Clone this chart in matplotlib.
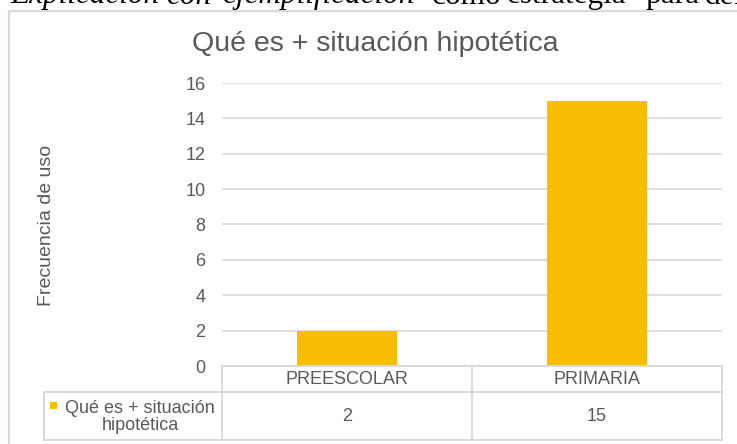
import matplotlib
matplotlib.use("Agg")
import matplotlib.pyplot as plt
from matplotlib.patches import Rectangle
from matplotlib.lines import Line2D

categories = ["PREESCOLAR", "PRIMARIA"]
values = [2, 15]
series_name = "Qué es + situación\nhipotética"
title = "Qué es + situación hipotética"
ylabel = "Frecuencia de uso"
yticks = [0, 2, 4, 6, 8, 10, 12, 14, 16]
# caption above the chart (justified text, partly clipped)
caption_words = ["Explicación", "con", "ejemplificación", "como", "estrategia", "para", "definir"]
caption_italic = [True, True, True, False, False, False, False]
caption_x = [10, 166, 222, 432, 507, 645, 705]

W, H = 737, 444
plt.rcParams['font.family'] = ['Liberation Sans', 'DejaVu Sans']
fig = plt.figure(figsize=(W / 100, H / 100), dpi=100)

def fx(px):
    return px / W

def fy(py):
    return 1 - py / H

TXT = "#595959"
GRID = "#D9D9D9"
BAR = "#F9BE04"

# Outer chart frame (extends past right/bottom edge)
fig.add_artist(Rectangle((fx(8.5), fy(460)), fx(760) - fx(8.5), fy(10.5) - fy(460),
                         transform=fig.transFigure, fill=False, edgecolor=GRID, lw=1.6))

# Caption words
for w, it, xx in zip(caption_words, caption_italic, caption_x):
    fig.text(fx(xx), fy(3.5), w, family=['Liberation Serif', 'DejaVu Serif'],
             style='italic' if it else 'normal', fontsize=22.5, color='black',
             va='baseline', ha='left')

# Axes
left, right, top, bottom = 222, 722, 83, 366
ax = fig.add_axes([fx(left), fy(bottom), fx(right) - fx(left), fy(top) - fy(bottom)])
x = list(range(len(categories)))
ax.bar(x, values, width=0.4, color=BAR, zorder=3)
ax.set_xlim(-0.5, len(categories) - 0.5)
ax.set_ylim(0, 16)
ax.set_yticks(yticks)
ax.set_yticklabels([str(v) for v in yticks], fontsize=13, color=TXT)
ax.tick_params(axis='y', length=0, pad=12)
ax.set_xticks([])
ax.grid(axis='y', color=GRID, lw=1.2, zorder=0)
for s in ax.spines.values():
    s.set_visible(False)

fig.text(fx(47), fy(225), ylabel, fontsize=14, color=TXT, rotation=90,
         ha='center', va='center')
fig.text(fx(375), fy(44), title, fontsize=20.5, color=TXT, ha='center', va='center')

# Data table
def hline(x0, x1, y):
    fig.add_artist(Line2D([fx(x0), fx(x1)], [fy(y), fy(y)], transform=fig.transFigure,
                          color=GRID, lw=1.4))

def vline(x, y0, y1):
    fig.add_artist(Line2D([fx(x), fx(x)], [fy(y0), fy(y1)], transform=fig.transFigure,
                          color=GRID, lw=1.4))

r0, r1, r2 = 366, 392, 440
legx = 44
hline(left, right, r0)
hline(legx, right, r1)
hline(legx, right, r2)
vline(left, r0, r2)
vline(right, r0, r2)
vline(legx, r1, r2)
colw = (right - left) / len(categories)
for i, (c, v) in enumerate(zip(categories, values)):
    cx = left + colw * (i + 0.5)
    if i > 0:
        vline(left + colw * i, r0, r2)
    fig.text(fx(cx), fy((r0 + r1) / 2 + 0.5), c, fontsize=13, color=TXT, ha='center', va='center')
    fig.text(fx(cx), fy((r1 + r2) / 2), str(v), fontsize=13, color=TXT, ha='center', va='center')

fig.add_artist(Rectangle((fx(49.5), fy(409)), fx(7) - fx(0), fy(402) - fy(409),
                         transform=fig.transFigure, color=BAR, lw=0))
fig.text(fx(140), fy((r1 + r2) / 2 + 0.5), series_name, fontsize=13, color=TXT,
         ha='center', va='center', linespacing=1.0)

fig.savefig("out.png", dpi=100, facecolor='white')
